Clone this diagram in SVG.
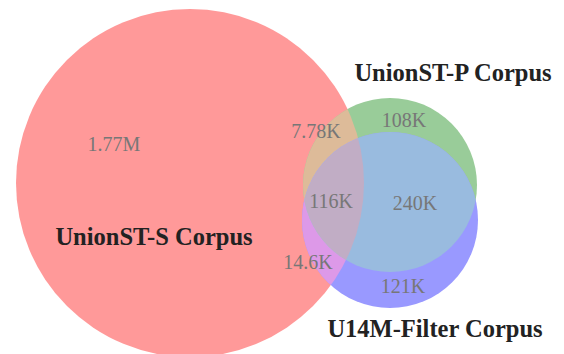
<svg xmlns="http://www.w3.org/2000/svg" width="564" height="354" viewBox="0 0 564 354">
<style>
.num{font-family:"Liberation Serif","Times New Roman",serif;font-size:20px;fill:#777777;text-anchor:middle}
.lbl{font-family:"Liberation Serif","Times New Roman",serif;font-size:24.5px;font-weight:bold;fill:#222222;text-anchor:middle}
</style>
<defs>
<clipPath id="clipR"><circle cx="190" cy="183" r="174"/></clipPath>
<clipPath id="clipG"><circle cx="390" cy="185" r="87"/></clipPath>
</defs>
<rect width="564" height="354" fill="#ffffff"/>
<g id="set-S">
<circle cx="190" cy="183" r="174" fill="#ff9999"/>
</g>
<g id="set-P">
<circle cx="390" cy="185" r="87" fill="#99cc99"/>
</g>
<g id="set-F">
<circle cx="390" cy="220" r="88" fill="#9999ff"/>
</g>
<g id="overlaps">
<circle cx="390" cy="185" r="87" fill="#ddbb99" clip-path="url(#clipR)"/>
<circle cx="390" cy="220" r="88" fill="#dd99e8" clip-path="url(#clipR)"/>
<circle cx="390" cy="220" r="88" fill="#99bbdf" clip-path="url(#clipG)"/>
<g clip-path="url(#clipR)"><circle cx="390" cy="220" r="88" fill="#c1adc5" clip-path="url(#clipG)"/></g>
</g>
<g id="connectors"/>
<g id="counts">
<text class="num" x="114" y="151">1.77M</text>
<text class="num" x="316" y="138">7.78K</text>
<text class="num" x="404" y="127">108K</text>
<text class="num" x="331" y="208">116K</text>
<text class="num" x="415" y="210">240K</text>
<text class="num" x="308" y="269">14.6K</text>
<text class="num" x="403" y="293">121K</text>
</g>
<g id="labels">
<text class="lbl" x="154" y="245">UnionST-S Corpus</text>
<text class="lbl" x="453" y="81">UnionST-P Corpus</text>
<text class="lbl" x="435" y="337">U14M-Filter Corpus</text>
</g>
</svg>
